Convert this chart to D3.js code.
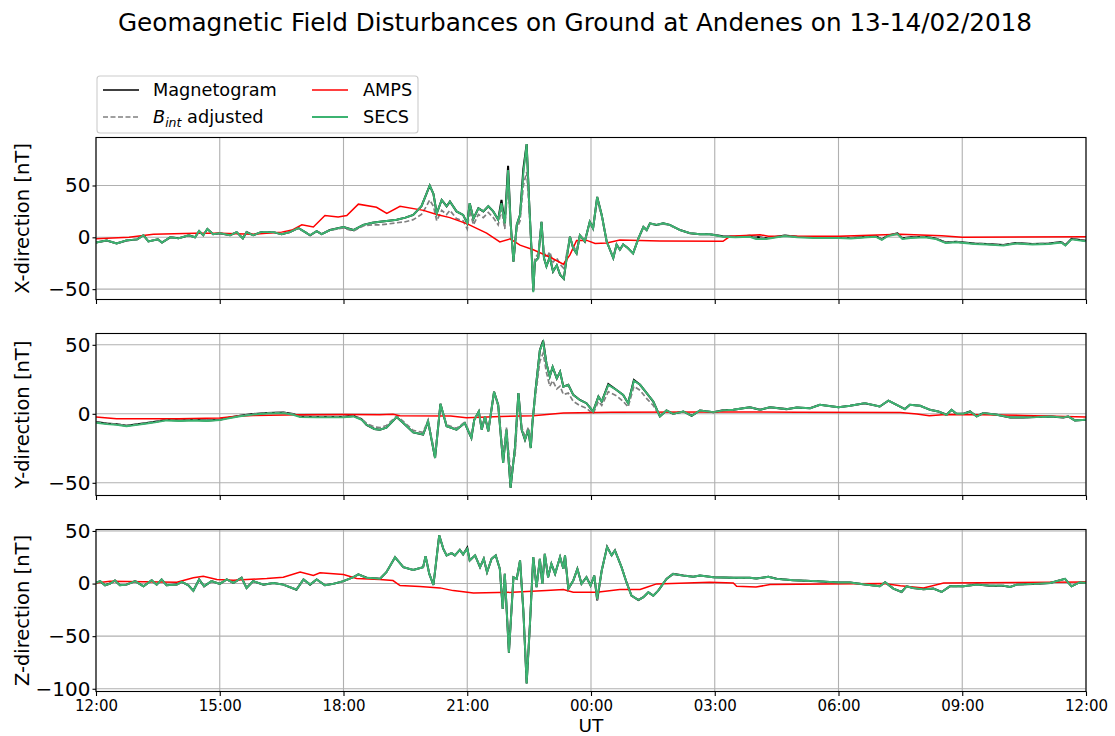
<!DOCTYPE html>
<html>
<head>
<meta charset="utf-8">
<script src="https://cdn.jsdelivr.net/npm/d3@7/dist/d3.min.js"></script>
<style>
  html, body { margin: 0; padding: 0; background: #fff; }
  svg { display: block; font-family: "DejaVu Sans", sans-serif; }
</style>
</head>
<body>
<svg id="chart" width="1115" height="736"></svg>
<script>
// Time axis: hours after 12:00 UT on 13/02/2018
const xTickHours = [0, 3, 6, 9, 12, 15, 18, 21, 24];
const xTickLabels = ["12:00", "15:00", "18:00", "21:00", "00:00", "03:00", "06:00", "09:00", "12:00"];

const seriesNames = ["Magnetogram", "B_int adjusted", "AMPS", "SECS"];
const panelLabels = ["X-direction [nT]", "Y-direction [nT]", "Z-direction [nT]"];
const yDomains = [[-60, 96.3], [-59.2, 58.2], [-102.6, 51.4]];
const yTicks = [[-50, 0, 50], [-50, 0, 50], [-100, -50, 0, 50]];

// ---------- X component ----------
const tX = [0,0.26,0.5,0.74,1.0,1.15,1.27,1.5,1.6,1.8,2.0,2.25,2.4,2.5,2.6,2.7,2.84,3.0,3.25,3.41,3.56,3.65,3.81,4.0,4.3,4.5,4.7,4.9,5.07,5.19,5.35,5.47,5.67,6.0,6.24,6.48,6.7,6.88,7.1,7.29,7.5,7.69,7.89,8.01,8.09,8.18,8.26,8.38,8.5,8.58,8.74,8.9,9.0,9.06,9.15,9.27,9.39,9.51,9.63,9.75,9.83,9.91,9.99,10.05,10.12,10.2,10.28,10.36,10.44,10.5,10.56,10.6,10.64,10.72,10.8,10.86,10.92,11.0,11.08,11.17,11.25,11.34,11.41,11.49,11.57,11.65,11.73,11.85,11.97,12.05,12.15,12.26,12.38,12.46,12.54,12.62,12.7,12.78,12.9,13.02,13.15,13.27,13.35,13.43,13.59,13.75,13.91,14.16,14.4,14.64,14.88,15.2,15.5,15.85,16.0,16.25,16.5,16.7,17.0,17.4,18.0,18.3,18.7,18.9,19.05,19.2,19.43,19.55,19.75,20.1,20.35,20.6,20.85,21.3,21.6,22.0,22.3,22.7,23.1,23.4,23.5,23.65,24.0];
const magX = [-5,-3,-6,-3,-2,2,-4,-2,-5,0,-1,2,0,6,2,8,3,4,2,5,-1,5,2,5,5,3,5,9,5,2,6,3,7,10,7,12,14,15,16,17,19,21.6,30,42,50,42,23,36,30,34.5,25,21.6,13.5,33,18,28,25,30,25,17,36,13.5,69,15,-23.5,12,21.6,66,90,34.5,-14,-52,-23.5,-20,15,-20,-28,-19,-33,-27,-36,-40,-20,0.6,-10.6,-15.5,2,-4,15,8.7,39,21.6,-4,-12,-20,-7,-12,-7,-10.6,-15.5,-1,10,7,13.5,12,13.5,12,7,4,3,3,1,0.5,1.5,0.5,-1,0.5,1.8,0.5,0,0,-0.6,0.6,1.2,-2,1.8,3.8,-1,0,0.6,-1,-5,-4.3,-6,-6.5,-7.5,-5.5,-6.5,-6,-4.5,-7.5,-1.5,-3.4];
const bintX = [-5,-3,-6,-3,-2,2,-4,-2,-5,0,-1,2,0,6,2,8,3,4,2,5,-1,5,2,5,5,3,5,9,5,2,6,3,7,9,6,11,12,12,13,14,15,17,22,30,36,30,16,26,22,26,18,16,8,26,12,22,19,24,19,12,27,8,55,10,-22,8,16,50,63,28,-12,-42,-20,-16,12,-14,-20,-14,-24,-20,-26,-30,-16,0,-9,-13,2,-3,13,8,36,20,-4,-12,-19,-7,-12,-7,-10.6,-15,-1,9,7,13,12,13,11.5,7,4,3,3,1,0.5,1.5,0.5,-1,0.5,1.8,0.5,0,0,-0.6,0.6,1.2,-2,1.8,3.8,-1,0,0.6,-1,-5,-4.3,-6,-6.5,-7.5,-5.5,-6.5,-6,-4.5,-7.5,-1.5,-3.4];
const secsX = [-5,-3,-6,-3,-2,2,-4,-2,-5,0,-1,2,0,6,2,8,3,4,2,5,-1,5,2,5,5,3,5,9,5,2,6,3,7,10,7,12,14,15,16,17,19,21.6,30,42,50,42,23,36,30,34.5,25,21.6,13.5,33,18,28,25,30,25,17,33,13.5,65,15,-23.5,12,21.6,62,90,34.5,-14,-53,-23.5,-20,15,-20,-28,-19,-33,-27,-36,-40,-20,0.6,-10.6,-15.5,2,-4,15,8.7,39,21.6,-4,-12,-20,-7,-12,-7,-10.6,-15.5,-1,10,7,13.5,12,13.5,12,7,4,3,3,0.6,0,0.5,-1.6,-1.6,0,1.3,0,-0.6,-0.6,-1.2,0,0.6,-2.6,1.3,3.2,-1.6,-0.6,0,-1.6,-5.5,-4.8,-6.5,-7,-8,-6,-7,-6.5,-5,-8,-2,-3.9];
const tAmpsX = [0,0.8,1.39,2.4,3.0,3.81,4.5,4.75,4.99,5.27,5.55,5.87,6.08,6.36,6.8,7.05,7.37,7.94,8.26,8.58,9.0,9.47,9.79,10.04,10.28,10.6,11.0,11.33,11.49,11.65,11.9,12.1,12.38,12.7,13.67,15.2,15.37,16.1,16.3,18.0,19.5,20.5,21.0,24];
const ampsX = [-1.5,0,3,4,4,3,5,7,12,10,21,19.7,21,32,29,23,30,26,22,19,13,4,-4.5,-1.5,-7.5,-12,-19,-26,-17,-3,-3,-6,-5.5,-2.5,-3.5,-3.8,1,2.5,1,1,3,1.5,0,0.6];

// ---------- Y component ----------
const tY = [0,0.26,0.5,0.74,1.0,1.23,1.47,1.71,2.04,2.36,2.68,3.0,3.25,3.49,3.81,4.14,4.54,4.78,4.95,5.35,5.75,6.0,6.24,6.44,6.56,6.75,6.88,7.04,7.29,7.45,7.69,7.93,8.05,8.22,8.35,8.5,8.74,8.94,9.1,9.17,9.28,9.35,9.43,9.51,9.65,9.75,9.87,9.95,10.05,10.16,10.24,10.32,10.4,10.48,10.54,10.58,10.66,10.76,10.84,10.92,11.0,11.07,11.17,11.25,11.33,11.45,11.57,11.73,11.89,12.05,12.18,12.26,12.42,12.62,12.78,12.9,13.04,13.19,13.35,13.51,13.67,13.83,13.99,14.24,14.44,14.64,14.97,15.2,15.45,15.85,16.1,16.34,16.74,16.99,17.31,17.55,18.0,18.28,18.64,19.0,19.21,19.41,19.61,19.73,19.98,20.22,20.42,20.62,20.74,20.86,21.03,21.19,21.35,21.51,21.84,22.16,22.48,22.8,23.13,23.45,23.57,23.73,24.0];
const magY = [-6,-7,-7.5,-8.6,-7.5,-6.7,-5.5,-4.3,-4.8,-4.3,-4.8,-4.3,-2.6,-1.4,-0.2,0.6,1,-0.2,-2,-2.2,-2.2,-2.2,-1.5,-4,-8,-11,-11.5,-10,-2.4,-6.7,-13.5,-15,-5.5,-32,7.2,-9,-11.5,-6.7,-17.5,-4.3,1.7,-11.5,-1.9,-12.7,16,6.5,-35.6,-11.5,-53.6,-23.5,15,-11.5,-18.8,-11.5,-24.8,-6.7,18.5,46,53,36.5,27,34,25.7,30.5,19.7,21,13.7,10,7.7,1.7,12.5,8.9,21.5,17.3,13.7,7.7,24.5,21,15,8.9,-1.9,2.4,0,1.7,-1.4,2.4,1.2,2.5,2.9,4.8,2.9,4.8,3.4,4.6,4,6.5,4.8,5.8,7.7,5.3,9.6,6.5,3.4,6.5,5.8,2.9,1.7,-0.7,2.9,0,0,1.7,-1.9,0.5,-0.7,-2.6,-2.6,-2.4,-1.9,-2.6,-1.9,-4.8,-4.3];
const bintY = [-6,-7,-7.5,-8.6,-7.5,-6.7,-5.5,-4.3,-4.8,-4.3,-4.8,-4.3,-2.6,-1.4,-0.2,0.6,1,-0.2,-2,-2.2,-2.2,-2.2,-1.5,-3.5,-7,-9.5,-10,-8.5,-1.5,-5.5,-12,-13.5,-4.5,-30,7,-8,-10.5,-6,-16,-4,1.5,-10.5,-2,-12,15,5.5,-30,-10,-42,-30,10,-10,-16,-10,-20,-5,14,38,44,30,20,24,18,20,14,15,9,6,4,0,9,6,16,13,9,5,20,17,11,6,-1.9,2.4,0,1.7,-1.4,2.4,1.2,2.5,2.9,4.8,2.9,4.8,3.4,4.6,4,6.5,4.8,5.8,7.7,5.3,9.6,6.5,3.4,6.5,5.8,2.9,1.7,-0.7,2.9,0,0,1.7,-1.9,0.5,-0.7,-2.6,-2.6,-2.4,-1.9,-2.6,-1.9,-4.8,-4.3];
const secsY = [-6.5,-7.5,-8,-9,-8,-7,-6,-4.8,-5.2,-4.8,-5.2,-4.6,-3,-1.8,-0.6,0.2,0.5,-0.7,-2.4,-2.6,-2.6,-2.6,-1.9,-4.3,-8,-11,-11.5,-10,-2.4,-6.7,-13.5,-15,-5.5,-32,7.2,-9,-11.5,-6.7,-17.5,-4.3,1.7,-11.5,-1.9,-12.7,16,6.5,-35.6,-11.5,-53.6,-23.5,15,-11.5,-18.8,-11.5,-24.8,-6.7,18.5,46,52,36.5,27,34,25.7,30.5,19.7,21,13.7,10,7.7,1.7,12.5,8.9,21,17.3,13.7,7.7,24,21,15,8.9,-1.9,2.4,0,1.7,-1.4,2.4,1.2,2.5,2.9,4.8,2.9,4.8,3.4,4.6,4,6.5,4.8,5.8,7.7,5.3,9.6,6.5,3.4,6.5,5.8,2.9,1.7,-0.7,2.9,0,0,1.7,-1.9,0.5,-0.7,-2.6,-2.6,-2.4,-1.9,-2.6,-1.9,-4.8,-4.3];
const tAmpsY = [0,0.5,2.0,3.0,3.33,3.81,4.95,6.0,6.88,7.2,7.37,8.6,8.98,9.8,10.6,11.33,12.5,15.0,17.0,19.5,19.9,20.2,20.6,21.5,22.5,24];
const ampsY = [-2.4,-3.6,-3.6,-3.1,-1.9,-1.2,-0.7,-0.5,-0.7,-0.3,-1.4,-1.6,-2.8,-1.9,-1.4,0.5,1.2,1.4,1.2,1,-0.2,-1.4,-0.5,-0.7,-1.2,-2.4];

// ---------- Z component ----------
const tZ = [0,0.1,0.22,0.34,0.46,0.58,0.74,0.95,1.15,1.35,1.47,1.59,1.71,1.96,2.08,2.24,2.36,2.5,2.62,2.8,3.0,3.17,3.33,3.53,3.65,3.81,4.06,4.3,4.54,4.86,5.03,5.19,5.35,5.55,5.75,6.0,6.24,6.36,6.56,6.75,6.88,7.04,7.25,7.45,7.69,7.93,7.99,8.08,8.18,8.24,8.32,8.42,8.5,8.62,8.7,8.82,8.9,9.0,9.06,9.19,9.31,9.4,9.48,9.59,9.69,9.79,9.86,9.91,10.01,10.12,10.2,10.28,10.36,10.44,10.52,10.6,10.68,10.76,10.82,10.88,10.96,11.04,11.13,11.25,11.33,11.37,11.45,11.57,11.67,11.77,11.89,11.99,12.08,12.15,12.26,12.39,12.5,12.58,12.74,12.86,12.98,13.15,13.27,13.39,13.51,13.63,13.83,13.99,14.24,14.48,14.64,14.97,15.45,15.85,16.01,16.3,16.5,16.9,17.47,18.0,18.28,18.6,19.0,19.13,19.33,19.53,19.65,19.81,20.06,20.3,20.5,20.7,21.03,21.35,21.67,22.0,22.16,22.32,22.72,23.13,23.49,23.65,23.85,24.0];
const magZ = [0.6,2.3,-1.6,0,2.9,-1.6,-1,2.3,-2.6,3.2,-1,3.9,-1.6,-1,1.6,-1.6,-6.8,3.9,-2.6,2.3,-0.3,3.9,0.6,5.5,-4.2,2.3,-1,0.6,-1,-5.8,3.9,-1,3.9,-1.6,-0.3,2.3,6.1,8.7,5.5,5,4.5,10.8,25,15.6,13,15.6,26,9.2,-1.3,18.8,45.9,33,26.8,29,26.8,32,27.7,34,22,26.8,15.6,23.6,10.8,23.6,26.8,14,-24,9.2,-65.6,6,4.5,22,-25.8,-95,-38.5,25.2,-3.5,23.6,-0.3,28.3,6,18.8,9.2,25.2,14,26.8,-5,2.9,14,-0.3,6,-1.9,7.6,-16,12.4,35,26.8,31.5,15.6,1.3,-11.5,-15.6,-13,-8.3,-11.5,-6.7,4.5,9.2,7.6,6.5,7.6,6,5.5,5.5,4.8,6.5,4.5,3.2,2.3,1,1,-0.6,-2.6,1.3,-4.8,-8,-2.6,-4.2,-5.5,-4.8,-8,-2.6,-2.6,-1,-2,-2,-3.2,-1,-0.3,0.6,4.5,-2.6,1.3,0.6];
const bintZ = [0.6,2.3,-1.6,0,2.9,-1.6,-1,2.3,-2.6,3.2,-1,3.9,-1.6,-1,1.6,-1.6,-6.8,3.9,-2.6,2.3,-0.3,3.9,0.6,5.5,-4.2,2.3,-1,0.6,-1,-5.8,3.9,-1,3.9,-1.6,-0.3,2.3,6.1,8.7,5.5,5,4.5,10.8,25,15.6,13,15.6,26,9.2,-1.3,18.8,45.5,33,26.8,29,26.8,32,27.7,33.5,22,26.8,15.6,23.6,10.8,23.6,26.8,14,-24,9.2,-65,6,4.5,22,-25.8,-94,-38.5,25.2,-3.5,23.6,-0.3,28.3,6,18.8,9.2,25.2,14,26.8,-5,2.9,14,-0.3,6,-1.9,7.6,-16,12.4,34.5,26.8,31.5,15.6,1.3,-11.5,-15.6,-13,-8.3,-11.5,-6.7,4.5,9.2,7.6,6.5,7.6,6,5.5,5.5,4.8,6.5,4.5,3.2,2.3,1,1,-0.6,-2.6,1.3,-4.8,-8,-2.6,-4.2,-5.5,-4.8,-8,-2.6,-2.6,-1,-2,-2,-3.2,-1,-0.3,0.6,4.5,-2.6,1.3,0.6];
const secsZ = [0.6,2.3,-1.6,0,2.9,-1.6,-1,2.3,-2.6,3.2,-1,3.9,-1.6,-1,1.6,-1.6,-6.8,3.9,-2.6,2.3,-0.3,3.9,0.6,5.5,-4.2,2.3,-1,0.6,-1,-5.8,3.9,-1,3.9,-1.6,-0.3,2.3,6.1,8.7,5.5,5,4.5,10.8,25,15.6,13,15.6,26,9.2,-1.3,18.8,45.9,33,26.8,29,26.8,32,27.7,33,22,26.8,15.6,23.6,10.8,23.6,26.8,14,-24,9.2,-65.6,6,4.5,22,-25.8,-95,-38.5,25.2,-3.5,23.6,-0.3,28.3,6,18.8,9.2,25.2,14,26.8,-5,2.9,14,-0.3,6,-1.9,7.6,-14.6,12.4,34.7,26.8,31.5,15.6,1.3,-11.5,-15.6,-13,-8.3,-11.5,-6.7,4.5,9.2,7.6,6.5,7.6,6,5.5,5.5,4.8,6.5,4.5,3.2,2.3,1,1,-0.6,-2.6,1.3,-4.8,-8,-2.6,-4.2,-5.5,-4.8,-8,-2.6,-2.6,-1,-2,-2,-3.2,-1,-0.3,0.6,4.5,-2.6,1.3,0.6];
const tAmpsZ = [0,0.34,1.96,2.36,2.6,2.93,3.33,4.14,4.54,4.95,5.27,5.43,6.0,6.32,6.88,7.2,7.37,7.85,8.34,8.66,9.15,10.1,10.92,11.33,11.57,12.14,12.7,13.19,13.35,13.59,14.88,15.45,15.53,16.0,16.34,19.1,19.5,20.06,20.55,24];
const ampsZ = [0.6,2.3,1.3,5.5,7,3.9,3.2,4.8,6,11,7.7,10.3,8.7,4.8,3.8,2.9,-1.9,-2.9,-4.1,-6.7,-9,-8.3,-6.7,-5.7,-8.3,-8.3,-5.7,-5.7,-3.5,-0.3,1.3,0.6,-2.6,-3.2,-1,0,-2,-4.2,0.6,1.6];

const panels = [
  { t: tX, mag: magX, bint: bintX, secs: secsX, tAmps: tAmpsX, amps: ampsX },
  { t: tY, mag: magY, bint: bintY, secs: secsY, tAmps: tAmpsY, amps: ampsY },
  { t: tZ, mag: magZ, bint: bintZ, secs: secsZ, tAmps: tAmpsZ, amps: ampsZ }
];

const colors = { mag: "#000000", bint: "#808080", amps: "#ff0000", secs: "#3cb371" };

const svg = d3.select("#chart");
const left = 96, right = 1086;
const panelTop = [137.5, 333.5, 529.5];
const panelH = 162;

const x = d3.scaleLinear().domain([0, 24]).range([left, right]);
const minus = s => String(s).replace("-", "\u2212");

svg.append("text")
  .attr("x", 575).attr("y", 31)
  .attr("text-anchor", "middle")
  .attr("font-size", 24.7)
  .text("Geomagnetic Field Disturbances on Ground at Andenes on 13-14/02/2018");

panels.forEach((p, i) => {
  const top = panelTop[i];
  const y = d3.scaleLinear().domain(yDomains[i]).range([top + panelH, top]);
  const g = svg.append("g");

  const clipId = "clip" + i;
  svg.append("clipPath").attr("id", clipId)
    .append("rect").attr("x", left).attr("y", top).attr("width", right - left).attr("height", panelH);

  // grid
  g.selectAll(".vg").data(xTickHours).join("line")
    .attr("x1", d => x(d)).attr("x2", d => x(d))
    .attr("y1", top).attr("y2", top + panelH)
    .attr("stroke", "#b0b0b0").attr("stroke-width", 1.1);
  g.selectAll(".hg").data(yTicks[i]).join("line")
    .attr("x1", left).attr("x2", right)
    .attr("y1", d => y(d)).attr("y2", d => y(d))
    .attr("stroke", "#b0b0b0").attr("stroke-width", 1.1);

  const lines = g.append("g").attr("clip-path", `url(#${clipId})`);
  const mk = (ts) => d3.line().x((d, k) => x(ts[k])).y(d => y(d));

  lines.append("path").attr("d", mk(p.t)(p.mag))
    .attr("fill", "none").attr("stroke", colors.mag).attr("stroke-width", 2);
  lines.append("path").attr("d", mk(p.t)(p.bint))
    .attr("fill", "none").attr("stroke", colors.bint).attr("stroke-width", 1.7)
    .attr("stroke-dasharray", "5,2.5");
  lines.append("path").attr("d", mk(p.tAmps)(p.amps))
    .attr("fill", "none").attr("stroke", colors.amps).attr("stroke-width", 1.5);
  lines.append("path").attr("d", mk(p.t)(p.secs))
    .attr("fill", "none").attr("stroke", colors.secs).attr("stroke-width", 1.9);

  // axes
  const yAxis = d3.axisLeft(y).tickValues(yTicks[i]).tickSize(3.5).tickPadding(2).tickFormat(minus);
  const ya = svg.append("g").attr("transform", `translate(${left},0)`).call(yAxis);
  ya.select(".domain").remove();
  ya.selectAll("text").attr("font-size", 20).attr("font-family", "DejaVu Sans").attr("fill", "#000");
  ya.selectAll("line").attr("stroke", "#000").attr("stroke-width", 1.1);

  const xAxis = d3.axisBottom(x).tickValues(xTickHours).tickSize(4.5).tickPadding(4)
    .tickFormat((d, k) => i === 2 ? xTickLabels[k] : "");
  const xa = svg.append("g").attr("transform", `translate(0,${top + panelH})`).call(xAxis);
  xa.select(".domain").remove();
  xa.selectAll("text").attr("font-size", 15).attr("font-family", "DejaVu Sans").attr("fill", "#000");
  xa.selectAll("line").attr("stroke", "#000").attr("stroke-width", 1.1);

  svg.append("rect").attr("x", left).attr("y", top).attr("width", right - left).attr("height", panelH)
    .attr("fill", "none").attr("stroke", "#000").attr("stroke-width", 1.1);

  svg.append("text")
    .attr("transform", `translate(29,${top + panelH / 2}) rotate(-90)`)
    .attr("text-anchor", "middle").attr("font-size", 19.5)
    .text(panelLabels[i]);
});

svg.append("text").attr("x", 591).attr("y", 732).attr("text-anchor", "middle")
  .attr("font-size", 18.5).text("UT");

// legend
const lg = svg.append("g");
lg.append("rect").attr("x", 97).attr("y", 76).attr("width", 321).attr("height", 57).attr("rx", 3)
  .attr("fill", "#fff").attr("fill-opacity", 0.8).attr("stroke", "#cccccc").attr("stroke-width", 1.1);
const legendItems = [
  { key: "mag", col: 0, row: 0, dash: null, w: 1.6 },
  { key: "bint", col: 0, row: 1, dash: "5,2.5", w: 1.6 },
  { key: "amps", col: 1, row: 0, dash: null, w: 1.5 },
  { key: "secs", col: 1, row: 1, dash: null, w: 1.8 }
];
const keyIndex = { mag: 0, bint: 1, amps: 2, secs: 3 };
legendItems.forEach(it => {
  const lx = it.col === 0 ? 103 : 312;
  const ly = it.row === 0 ? 90 : 117;
  lg.append("line").attr("x1", lx).attr("x2", lx + 36).attr("y1", ly).attr("y2", ly)
    .attr("stroke", colors[it.key]).attr("stroke-width", it.w)
    .attr("stroke-dasharray", it.dash);
  const tx = lg.append("text").attr("x", it.col === 0 ? 153 : 363).attr("y", ly + 6).attr("font-size", 17.7);
  const name = seriesNames[keyIndex[it.key]];
  if (it.key === "bint") {
    tx.append("tspan").attr("font-style", "italic").text("B");
    tx.append("tspan").attr("font-style", "italic").attr("font-size", 12.5).attr("dy", 4).text("int");
    tx.append("tspan").attr("dy", -4).text(" adjusted");
  } else {
    tx.text(name);
  }
});
</script>
</body>
</html>
